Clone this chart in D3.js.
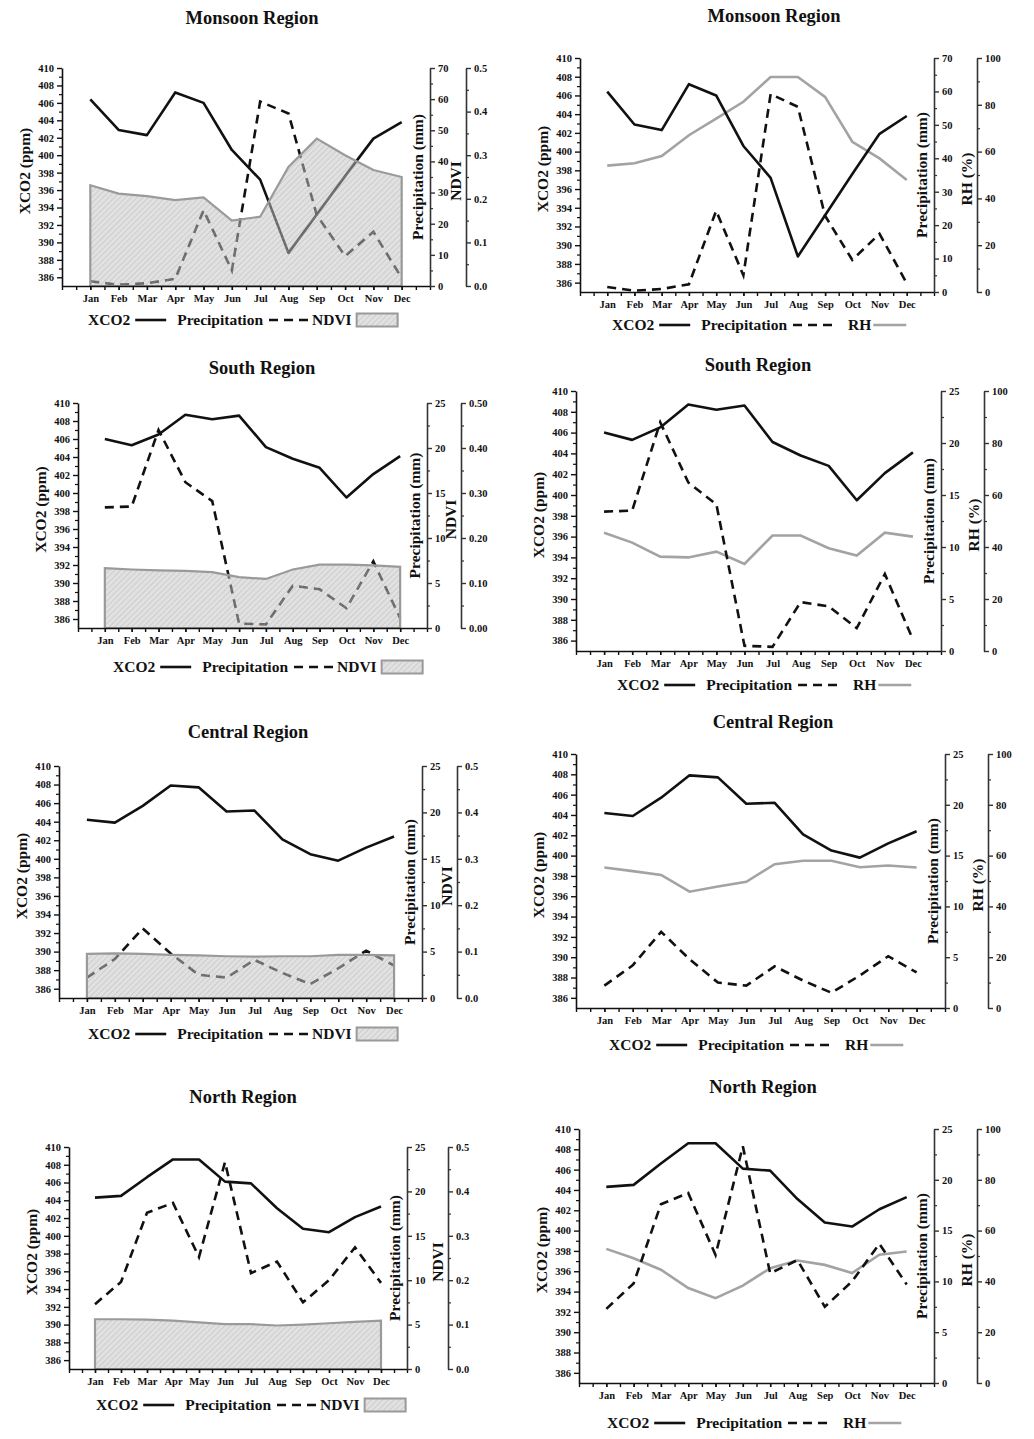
<!DOCTYPE html>
<html>
<head>
<meta charset="utf-8">
<script src="https://cdn.jsdelivr.net/npm/d3@7/dist/d3.min.js"></script>
<style>
body { margin: 0; background: #fff; }
text { font-family: "Liberation Serif", "Times New Roman", serif; font-weight: bold; fill: #111; }
</style>
</head>
<body>
<svg id="fig" width="1034" height="1439"></svg>
<script>
var months = ["Jan", "Feb", "Mar", "Apr", "May", "Jun", "Jul", "Aug", "Sep", "Oct", "Nov", "Dec"];

// monthly values
var monsoonXco2   = [406.4, 402.9, 402.3, 407.2, 406.0, 400.6, 397.2, 388.8, 393.2, 397.6, 401.9, 403.8];
var monsoonPrecip = [1.5, 0.4, 0.9, 2.3, 24.3, 5.0, 59.2, 55.4, 22.8, 9.6, 17.4, 2.6];
var monsoonNdvi   = [0.231, 0.212, 0.206, 0.197, 0.203, 0.150, 0.159, 0.273, 0.338, 0.300, 0.266, 0.250];
var monsoonRh     = [54.0, 55.0, 58.1, 67.0, 74.1, 81.3, 91.9, 91.9, 83.4, 64.2, 57.1, 47.9];

var southXco2   = [406.0, 405.3, 406.5, 408.7, 408.2, 408.6, 405.1, 403.8, 402.8, 399.5, 402.1, 404.1];
var southPrecip = [13.4, 13.5, 22.0, 16.2, 14.1, 0.5, 0.4, 4.7, 4.3, 2.2, 7.4, 1.1];
var southNdvi   = [0.133, 0.130, 0.128, 0.127, 0.124, 0.113, 0.109, 0.130, 0.141, 0.141, 0.139, 0.136];
var southRh     = [45.5, 41.7, 36.3, 36.0, 38.2, 33.5, 44.4, 44.4, 39.5, 36.7, 45.5, 44.0];

var centralXco2   = [404.2, 403.9, 405.7, 407.9, 407.7, 405.1, 405.2, 402.1, 400.5, 399.8, 401.2, 402.4];
var centralPrecip = [2.2, 4.2, 7.5, 4.8, 2.5, 2.2, 4.1, 2.7, 1.5, 3.2, 5.1, 3.5];
var centralNdvi   = [0.095, 0.096, 0.095, 0.093, 0.092, 0.090, 0.089, 0.090, 0.090, 0.093, 0.093, 0.092];
var centralRh     = [55.3, 53.9, 52.4, 45.8, 47.8, 49.7, 56.6, 58.0, 58.0, 55.4, 56.1, 55.3];

var northXco2   = [404.3, 404.5, 406.6, 408.6, 408.6, 406.1, 405.9, 403.1, 400.8, 400.4, 402.1, 403.3];
var northPrecip = [7.3, 9.8, 17.6, 18.7, 12.6, 23.3, 10.8, 12.1, 7.5, 10.0, 13.7, 9.7];
var northNdvi   = [0.112, 0.112, 0.111, 0.109, 0.105, 0.101, 0.101, 0.098, 0.100, 0.103, 0.106, 0.109];
var northRh     = [52.8, 49.1, 44.6, 37.4, 33.4, 38.3, 45.2, 48.2, 46.5, 43.3, 50.5, 51.8];

// tick labels
var xco2Ticks = [386, 388, 390, 392, 394, 396, 398, 400, 402, 404, 406, 408, 410];
var precipTicksMonsoon = [0, 10, 20, 30, 40, 50, 60, 70];
var precipTicks = [0, 5, 10, 15, 20, 25];
var ndviTicks = [0, 0.1, 0.2, 0.3, 0.4, 0.5];
var rhTicks = [0, 20, 40, 60, 80, 100];

// panel placement on the page
var panels = [
  {title: "Monsoon Region", xco2: monsoonXco2, precip: monsoonPrecip, third: monsoonNdvi, kind: "ndvi", pTicks: precipTicksMonsoon, fmt: ".1f",
   left: 62, right: 430, axis2: 466, top: 68, bottom: 286, tx: 252, ty: 18, lx: 88, ly: 320},
  {title: "Monsoon Region", xco2: monsoonXco2, precip: monsoonPrecip, third: monsoonRh, kind: "rh", pTicks: precipTicksMonsoon,
   left: 580, right: 934, axis2: 977, top: 58, bottom: 292, tx: 774, ty: 16, lx: 612, ly: 325},
  {title: "South Region", xco2: southXco2, precip: southPrecip, third: southNdvi, kind: "ndvi", pTicks: precipTicks, fmt: ".2f",
   left: 78, right: 427, axis2: 461, top: 403, bottom: 628, tx: 262, ty: 368, lx: 113, ly: 667},
  {title: "South Region", xco2: southXco2, precip: southPrecip, third: southRh, kind: "rh", pTicks: precipTicks,
   left: 576, right: 941, axis2: 984, top: 391, bottom: 651, tx: 758, ty: 365, lx: 617, ly: 685},
  {title: "Central Region", xco2: centralXco2, precip: centralPrecip, third: centralNdvi, kind: "ndvi", pTicks: precipTicks, fmt: ".1f",
   left: 59, right: 422, axis2: 457, top: 766, bottom: 998, tx: 248, ty: 732, lx: 88, ly: 1034},
  {title: "Central Region", xco2: centralXco2, precip: centralPrecip, third: centralRh, kind: "rh", pTicks: precipTicks,
   left: 576, right: 945, axis2: 988, top: 754, bottom: 1008, tx: 773, ty: 722, lx: 609, ly: 1045},
  {title: "North Region", xco2: northXco2, precip: northPrecip, third: northNdvi, kind: "ndvi", pTicks: precipTicks, fmt: ".1f",
   left: 69, right: 407, axis2: 448, top: 1147, bottom: 1369, tx: 243, ty: 1097, lx: 96, ly: 1405},
  {title: "North Region", xco2: northXco2, precip: northPrecip, third: northRh, kind: "rh", pTicks: precipTicks,
   left: 579, right: 934, axis2: 977, top: 1129, bottom: 1383, tx: 763, ty: 1087, lx: 607, ly: 1423}
];

var svg = d3.select("#fig");

var defs = svg.append("defs");
var pat = defs.append("pattern")
  .attr("id", "hatch")
  .attr("patternUnits", "userSpaceOnUse")
  .attr("width", 4).attr("height", 4)
  .attr("patternTransform", "rotate(45)");
pat.append("rect").attr("width", 4).attr("height", 4)
  .attr("fill", "#c4c4c4").attr("fill-opacity", 0.5);
pat.append("line").attr("x1", 0).attr("y1", 0).attr("x2", 0).attr("y2", 4)
  .attr("stroke", "#a0a0a0").attr("stroke-width", 1).attr("stroke-opacity", 0.6);

function minorOf(ticks) {
  var m = [];
  for (var i = 0; i < ticks.length - 1; i++) m.push((ticks[i] + ticks[i + 1]) / 2);
  return m;
}

function styleAxis(sel, col) {
  sel.select(".domain").attr("stroke", col).attr("stroke-width", 1.6);
  sel.selectAll(".tick line").attr("stroke", col).attr("stroke-width", 1.4);
  sel.selectAll(".tick text").style("font-size", "10.5px");
}

panels.forEach(function (p) {
  var g = svg.append("g");

  var x = d3.scaleLinear().domain([0, 13]).range([p.left, p.right]);
  var y = d3.scaleLinear().domain([385, 410]).range([p.bottom, p.top]);
  var yP = d3.scaleLinear().domain([0, p.pTicks[p.pTicks.length - 1]]).range([p.bottom, p.top]);
  var y3 = d3.scaleLinear().domain(p.kind == "ndvi" ? [0, 0.5] : [0, 100]).range([p.bottom, p.top]);
  var thirdTicks = p.kind == "ndvi" ? ndviTicks : rhTicks;

  // lines
  var xco2Line = d3.line().x(function (d, i) { return x(i + 1); }).y(function (d) { return y(d); });
  var precipLine = d3.line().x(function (d, i) { return x(i + 1); }).y(function (d) { return yP(d); });
  var thirdLine = d3.line().x(function (d, i) { return x(i + 1); }).y(function (d) { return y3(d); });

  if (p.kind == "rh") {
    g.append("path").attr("d", thirdLine(p.third))
      .attr("fill", "none").attr("stroke", "#a3a3a3").attr("stroke-width", 2.6);
  }
  g.append("path").attr("d", precipLine(p.precip))
    .attr("fill", "none").attr("stroke", "#111").attr("stroke-width", 2.6)
    .attr("stroke-dasharray", "9,6");
  g.append("path").attr("d", xco2Line(p.xco2))
    .attr("fill", "none").attr("stroke", "#111").attr("stroke-width", 2.6)
    .attr("stroke-linejoin", "round");

  if (p.kind == "ndvi") {
    var area = d3.area()
      .x(function (d, i) { return x(i + 1); })
      .y0(y3(0))
      .y1(function (d) { return y3(d); });
    g.append("path").attr("d", area(p.third) + "Z")
      .attr("fill", "url(#hatch)")
      .attr("stroke", "#9a9a9a").attr("stroke-width", 2.2);
  }

  // axes
  var yAxis = g.append("g").attr("transform", "translate(" + p.left + ",0)")
    .call(d3.axisLeft(y).tickValues(xco2Ticks).tickSize(5).tickSizeOuter(0).tickPadding(3).tickFormat(d3.format("d")));
  styleAxis(yAxis, "#111");
  g.append("g").attr("transform", "translate(" + p.left + ",0)")
    .call(d3.axisLeft(y).tickValues(minorOf(xco2Ticks)).tickSize(3).tickFormat(""))
    .call(function (s) { s.select(".domain").remove(); s.selectAll("line").attr("stroke", "#111").attr("stroke-width", 1.2); });

  var halfMonths = [];
  for (var k = 0; k <= 26; k++) halfMonths.push(k / 2);
  g.append("g").attr("transform", "translate(0," + p.bottom + ")")
    .call(d3.axisBottom(x).tickValues(halfMonths).tickSize(4).tickSizeOuter(0).tickFormat(""))
    .call(function (s) { styleAxis(s, "#111"); });
  var xAxis = g.append("g").attr("transform", "translate(0," + p.bottom + ")")
    .call(d3.axisBottom(x).tickValues(d3.range(1, 13)).tickSize(4).tickPadding(5)
      .tickFormat(function (d) { return months[d - 1]; }));
  xAxis.select(".domain").remove();
  styleAxis(xAxis, "#111");

  var pAxis = g.append("g").attr("transform", "translate(" + p.right + ",0)")
    .call(d3.axisRight(yP).tickValues(p.pTicks).tickSize(5).tickSizeOuter(0).tickPadding(3));
  styleAxis(pAxis, "#333");
  g.append("g").attr("transform", "translate(" + p.right + ",0)")
    .call(d3.axisRight(yP).tickValues(minorOf(p.pTicks)).tickSize(3).tickFormat(""))
    .call(function (s) { s.select(".domain").remove(); s.selectAll("line").attr("stroke", "#333").attr("stroke-width", 1.2); });

  var tAxis = g.append("g").attr("transform", "translate(" + p.axis2 + ",0)")
    .call(d3.axisRight(y3).tickValues(thirdTicks).tickSize(5).tickSizeOuter(0).tickPadding(3)
      .tickFormat(p.kind == "ndvi" ? d3.format(p.fmt) : d3.format("d")));
  styleAxis(tAxis, "#333");
  g.append("g").attr("transform", "translate(" + p.axis2 + ",0)")
    .call(d3.axisRight(y3).tickValues(minorOf(thirdTicks)).tickSize(3).tickFormat(""))
    .call(function (s) { s.select(".domain").remove(); s.selectAll("line").attr("stroke", "#333").attr("stroke-width", 1.2); });

  // axis titles
  var mid = (p.top + p.bottom) / 2;
  g.append("text").attr("transform", "translate(" + (p.left - 37) + "," + (mid - 6) + ") rotate(-90)")
    .attr("text-anchor", "middle").attr("dy", "0.35em").style("font-size", "15.5px").text("XCO2 (ppm)");
  g.append("text").attr("transform", "translate(" + (p.right - 12) + "," + mid + ") rotate(-90)")
    .attr("text-anchor", "middle").attr("dy", "0.35em").style("font-size", "15.5px").text("Precipitation (mm)");
  g.append("text").attr("transform", "translate(" + (p.axis2 - 10) + "," + (mid + 4) + ") rotate(-90)")
    .attr("text-anchor", "middle").attr("dy", "0.35em").style("font-size", "15.5px")
    .text(p.kind == "ndvi" ? "NDVI" : "RH (%)");

  // title
  g.append("text").attr("x", p.tx).attr("y", p.ty).attr("dy", "0.35em")
    .attr("text-anchor", "middle").style("font-size", "18.5px").text(p.title);

  // legend
  var lg = g.append("g");
  var cx = p.lx;
  function label(s) {
    var t = lg.append("text").attr("x", cx).attr("y", p.ly).attr("dy", "0.35em")
      .style("font-size", "15.5px").text(s);
    cx += t.node().getComputedTextLength();
  }
  label("XCO2");
  cx += 5;
  lg.append("line").attr("x1", cx).attr("x2", cx + 31).attr("y1", p.ly).attr("y2", p.ly)
    .attr("stroke", "#111").attr("stroke-width", 2.6);
  cx += 42;
  label("Precipitation");
  cx += 6;
  lg.append("line").attr("x1", cx).attr("x2", cx + 40).attr("y1", p.ly).attr("y2", p.ly)
    .attr("stroke", "#111").attr("stroke-width", 2.6).attr("stroke-dasharray", "9,6");
  if (p.kind == "ndvi") {
    cx += 43;
    label("NDVI");
    cx += 5;
    lg.append("rect").attr("x", cx).attr("y", p.ly - 6.5).attr("width", 41).attr("height", 13)
      .attr("fill", "url(#hatch)").attr("stroke", "#9a9a9a").attr("stroke-width", 2);
  } else {
    cx += 55;
    label("RH");
    cx += 2;
    lg.append("line").attr("x1", cx).attr("x2", cx + 33).attr("y1", p.ly).attr("y2", p.ly)
      .attr("stroke", "#a3a3a3").attr("stroke-width", 2.6);
  }
});
</script>
</body>
</html>
